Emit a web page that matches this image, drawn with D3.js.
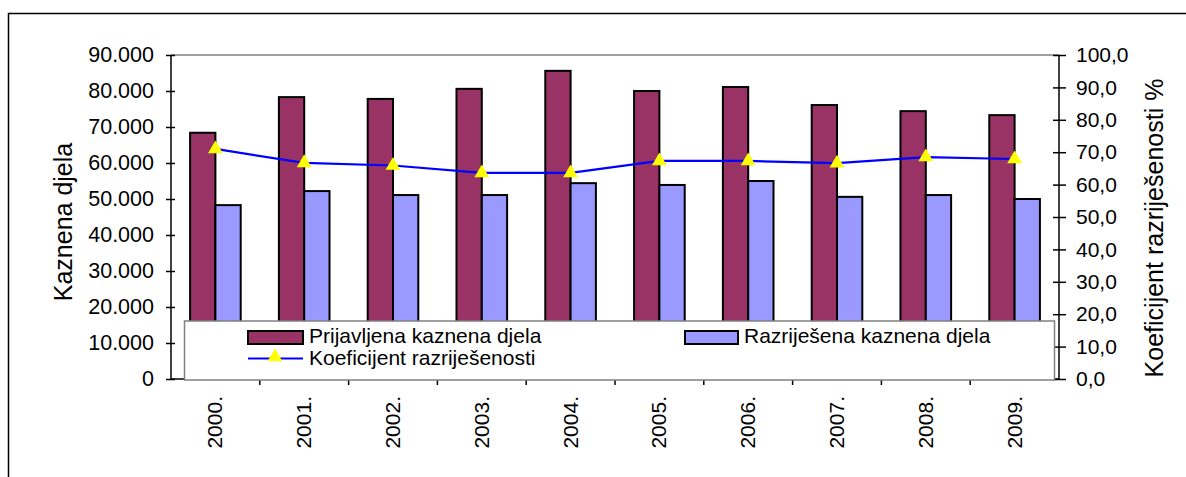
<!DOCTYPE html>
<html>
<head>
<meta charset="utf-8">
<script src="https://cdn.jsdelivr.net/npm/d3@7"></script>
<style>
  body { margin: 0; background: #fff; }
  svg { display: block; font-family: "Liberation Sans", Arial, sans-serif; }
</style>
</head>
<body>
<div id="chart-container"></div>
<script>
// Data
const years = ["2000.", "2001.", "2002.", "2003.", "2004.", "2005.", "2006.", "2007.", "2008.", "2009."];
const prijavljena = [68400, 78300, 77800, 80600, 85600, 80000, 81100, 76100, 74400, 73300];
const razrijesena = [48300, 52200, 51100, 51100, 54400, 53900, 55000, 50600, 51100, 50000];
const koeficijent = [71.0, 66.7, 65.9, 63.6, 63.6, 67.3, 67.3, 66.6, 68.5, 67.9];
const leftTicks = [0, 10000, 20000, 30000, 40000, 50000, 60000, 70000, 80000, 90000];
const rightTicks = [0, 10, 20, 30, 40, 50, 60, 70, 80, 90, 100];

const W = 1186, H = 477;
const plot = { left: 171, right: 1059, top: 55, bottom: 379 };
const fontFam = "Liberation Sans, Arial, sans-serif";

const svg = d3.select("#chart-container")
  .append("svg")
  .attr("width", W)
  .attr("height", H);

// outer frame (runs off the right and bottom edges)
svg.append("rect")
  .attr("x", 8.5).attr("y", 13.5)
  .attr("width", W + 20).attr("height", H + 20)
  .attr("fill", "none")
  .attr("stroke", "#000")
  .attr("stroke-width", 1.5);

const x = d3.scaleBand()
  .domain(years)
  .range([plot.left, plot.right]);

const yL = d3.scaleLinear().domain([0, 90000]).range([plot.bottom, plot.top]);
const yR = d3.scaleLinear().domain([0, 100]).range([plot.bottom, plot.top]);

const barW = x.bandwidth() * 0.285;

// top border of the plot area
svg.append("line")
  .attr("x1", plot.left).attr("x2", plot.right)
  .attr("y1", plot.top).attr("y2", plot.top)
  .attr("stroke", "#808080")
  .attr("stroke-width", 1.5);

// bars
svg.append("g").selectAll("rect")
  .data(prijavljena)
  .join("rect")
  .attr("x", (d, i) => x(years[i]) + x.bandwidth() / 2 - barW)
  .attr("y", d => yL(d))
  .attr("width", barW)
  .attr("height", d => yL(0) - yL(d))
  .attr("fill", "#993366")
  .attr("stroke", "#000")
  .attr("stroke-width", 2);

svg.append("g").selectAll("rect")
  .data(razrijesena)
  .join("rect")
  .attr("x", (d, i) => x(years[i]) + x.bandwidth() / 2)
  .attr("y", d => yL(d))
  .attr("width", barW)
  .attr("height", d => yL(0) - yL(d))
  .attr("fill", "#9999ff")
  .attr("stroke", "#000")
  .attr("stroke-width", 2);

// line series
const line = d3.line()
  .x((d, i) => x(years[i]) + x.bandwidth() / 2)
  .y(d => yR(d));

svg.append("path")
  .datum(koeficijent)
  .attr("fill", "none")
  .attr("stroke", "#0000ff")
  .attr("stroke-width", 2.2)
  .attr("d", line);

const tri = d3.symbol().type(d3.symbolTriangle).size(95);
svg.append("g").selectAll("path")
  .data(koeficijent)
  .join("path")
  .attr("transform", (d, i) => `translate(${x(years[i]) + x.bandwidth() / 2},${yR(d)})`)
  .attr("d", tri)
  .attr("fill", "#ffff00");

// left axis
const axL = svg.append("g")
  .attr("transform", `translate(${plot.left},0)`)
  .call(d3.axisLeft(yL)
    .tickValues(leftTicks)
    .tickSize(5)
    .tickPadding(12)
    .tickFormat(d => d === 0 ? "0" : d3.format(",")(d).replace(/,/g, ".")));
axL.select(".domain").attr("stroke", "#000").attr("stroke-width", 1.5).attr("d", `M0,${plot.top}V${plot.bottom}`);
axL.selectAll(".tick line").attr("x1", 4).attr("x2", -5).attr("stroke-width", 1.5);
axL.selectAll(".tick text").attr("font-size", 21.5).attr("fill", "#000").attr("font-family", fontFam);

// right axis
const axR = svg.append("g")
  .attr("transform", `translate(${plot.right},0)`)
  .call(d3.axisRight(yR)
    .tickValues(rightTicks)
    .tickSize(7)
    .tickPadding(10)
    .tickFormat(d => d3.format(".1f")(d).replace(".", ",")));
axR.select(".domain").attr("stroke", "#000").attr("stroke-width", 1.5).attr("d", `M0,${plot.top}V${plot.bottom}`);
axR.selectAll(".tick line").attr("x1", -6).attr("x2", 7).attr("stroke-width", 1.5);
axR.selectAll(".tick text").attr("font-size", 21).attr("fill", "#000").attr("font-family", fontFam);

// bottom axis
const axB = svg.append("g")
  .attr("transform", `translate(0,${plot.bottom})`)
  .call(d3.axisBottom(x).tickSize(0).tickPadding(0));
axB.select(".domain").attr("stroke", "#000").attr("stroke-width", 1.5).attr("d", `M${plot.left},0H${plot.right}`);
axB.selectAll(".tick line").remove();
axB.selectAll(".tick text")
  .attr("font-size", 21)
  .attr("fill", "#000")
  .attr("font-family", fontFam)
  .attr("text-anchor", "end")
  .attr("dy", "0.33em")
  .attr("transform", "translate(0,17) rotate(-90)")
  .attr("x", 0).attr("y", 0);

// category boundary ticks
const bounds = years.slice(1).map(d => x(d));
svg.append("g").selectAll("line")
  .data(bounds)
  .join("line")
  .attr("x1", d => d).attr("x2", d => d)
  .attr("y1", plot.bottom).attr("y2", plot.bottom + 6)
  .attr("stroke", "#000")
  .attr("stroke-width", 1.5);

// axis titles
svg.append("text")
  .attr("transform", "translate(72,222) rotate(-90)")
  .attr("text-anchor", "middle")
  .attr("font-size", 25)
  .text("Kaznena djela");

svg.append("text")
  .attr("transform", "translate(1163,228) rotate(-90)")
  .attr("text-anchor", "middle")
  .attr("font-size", 25)
  .text("Koeficijent razriješenosti %");

// legend
const legend = svg.append("g");
legend.append("rect")
  .attr("x", 184.5).attr("y", 321)
  .attr("width", 870).attr("height", 59)
  .attr("fill", "#fff")
  .attr("stroke", "#808080")
  .attr("stroke-width", 1.5);

legend.append("rect")
  .attr("x", 248).attr("y", 331)
  .attr("width", 55).attr("height", 13)
  .attr("fill", "#993366").attr("stroke", "#000").attr("stroke-width", 2);
legend.append("text")
  .attr("x", 309).attr("y", 343)
  .attr("font-size", 21)
  .text("Prijavljena kaznena djela");

legend.append("rect")
  .attr("x", 685).attr("y", 331)
  .attr("width", 53).attr("height", 13)
  .attr("fill", "#9999ff").attr("stroke", "#000").attr("stroke-width", 2);
legend.append("text")
  .attr("x", 744).attr("y", 343)
  .attr("font-size", 21)
  .text("Razriješena kaznena djela");

legend.append("line")
  .attr("x1", 248).attr("x2", 303)
  .attr("y1", 358.5).attr("y2", 358.5)
  .attr("stroke", "#0000ff").attr("stroke-width", 2);
legend.append("path")
  .attr("transform", "translate(275,357)")
  .attr("d", tri)
  .attr("fill", "#ffff00");
legend.append("text")
  .attr("x", 309).attr("y", 364.5)
  .attr("font-size", 21)
  .text("Koeficijent razriješenosti");
</script>
</body>
</html>
